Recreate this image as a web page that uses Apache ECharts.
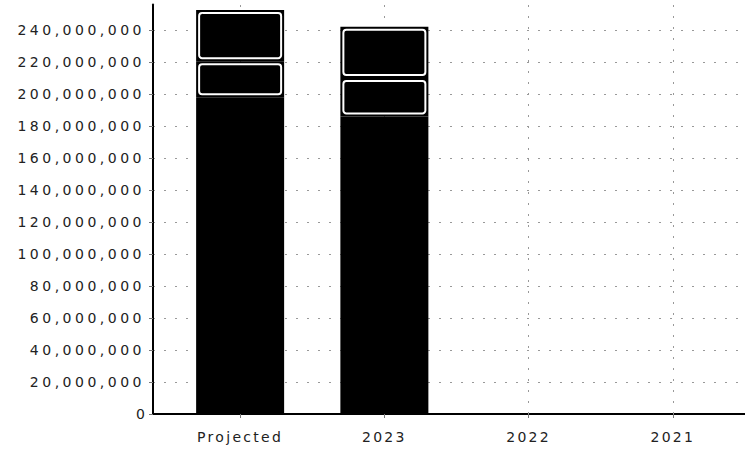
<!DOCTYPE html>
<html>
<head>
<meta charset="utf-8">
<script src="https://cdn.jsdelivr.net/npm/echarts@6/dist/echarts.min.js"></script>
<style>
html,body{margin:0;padding:0;background:#fff;}
#chart{width:745px;height:454px;}
</style>
</head>
<body>
<div id="chart"></div>
<script>
// ---- data ----
const categories = ['Projected', '2023', '2022', '2021'];
const baseValues = [198000000, 186000000, null, null];
const middleValues = [22500000, 24000000, null, null];
const topValues = [32000000, 32000000, null, null];
const yMin = 0, yMax = 256000000, yStep = 20000000;

// ---- layout / style ----
const BAR_W = 88, INSET = 3;
const GRID_LINE = {color: '#999', type: [2, 9], width: 1};
const chart = echarts.init(document.getElementById('chart'), null, {renderer: 'svg'});

// white inset frames built from the same arrays
const boxData = [];
categories.forEach((c, i) => {
  const b = baseValues[i], m = middleValues[i], t = topValues[i];
  if (b != null && m != null) boxData.push([i, b, b + m]);
  if (b != null && m != null && t != null) boxData.push([i, b + m, b + m + t]);
});

const gridCommon = {top: 4.4, bottom: 40, containLabel: false};
const option = {
  animation: false,
  backgroundColor: '#fff',
  grid: [
    Object.assign({left: 168, width: 578}, gridCommon),
    Object.assign({left: 153, right: 0}, gridCommon)
  ],
  xAxis: [{
    type: 'category', gridIndex: 0, data: categories,
    axisLine: {show: false},
    axisTick: {show: true, alignWithLabel: true, length: 4, lineStyle: {color: '#777'}},
    axisLabel: {color: '#222', fontFamily: 'DejaVu Sans', fontSize: 14, margin: 16},
    splitLine: {show: false}
  }, {
    type: 'value', gridIndex: 1, min: 0, max: 1,
    axisLine: {show: true, lineStyle: {color: '#000', width: 2}},
    axisTick: {show: false}, axisLabel: {show: false}, splitLine: {show: false}
  }],
  yAxis: [{
    type: 'value', gridIndex: 0, min: yMin, max: yMax, interval: yStep, offset: 15,
    axisLine: {show: true, lineStyle: {color: '#000', width: 2}},
    axisTick: {show: true, length: 4, lineStyle: {color: '#777'}},
    axisLabel: {
      color: '#222', fontFamily: 'DejaVu Sans', fontSize: 14, margin: 8, showMaxLabel: false,
      formatter: v => v.toLocaleString('en-US')
    },
    splitLine: {show: false}
  }, {
    type: 'value', gridIndex: 1, min: yMin, max: yMax, interval: yStep,
    axisLine: {show: false}, axisTick: {show: false}, axisLabel: {show: false},
    splitLine: {show: true, showMaxLine: false, lineStyle: GRID_LINE}
  }],
  series: [
    {name: 'Base', type: 'bar', stack: 'total', barWidth: BAR_W, data: baseValues,
     itemStyle: {color: '#000'},
     markLine: {
       silent: true, symbol: 'none', z: 1, label: {show: false},
       lineStyle: GRID_LINE,
       data: categories.map(c => ({xAxis: c}))
     }},
    {name: 'Middle', type: 'bar', stack: 'total', barWidth: BAR_W, data: middleValues,
     itemStyle: {color: '#000'}},
    {name: 'Top', type: 'bar', stack: 'total', barWidth: BAR_W, data: topValues,
     itemStyle: {color: '#000'}},
    {name: 'Frames', type: 'custom', data: boxData, encode: {x: 0, y: [1, 2]}, z: 5,
     renderItem: function (params, api) {
       const top = api.coord([api.value(0), api.value(2)]);
       const base = api.coord([api.value(0), api.value(1)]);
       const w = BAR_W - 2 * INSET;
       return {
         type: 'rect',
         shape: {x: top[0] - w / 2, y: top[1] + INSET, width: w, height: base[1] - top[1] - 2 * INSET, r: 3},
         style: {fill: 'none', stroke: '#fff', lineWidth: 2}
       };
     }}
  ]
};
chart.setOption(option);

function spaceLabels() {
  document.querySelectorAll('#chart svg text').forEach(t => {
    const s = t.textContent;
    if (/^[\d,]+$/.test(s) && s.indexOf(',') >= 0) t.setAttribute('letter-spacing', '3.5');
    else if (/^\d$/.test(s)) t.setAttribute('letter-spacing', '0');
    else t.setAttribute('letter-spacing', '2.3');
  });
}
chart.on('finished', spaceLabels);
spaceLabels();
setTimeout(spaceLabels, 50);
</script>
</body>
</html>
